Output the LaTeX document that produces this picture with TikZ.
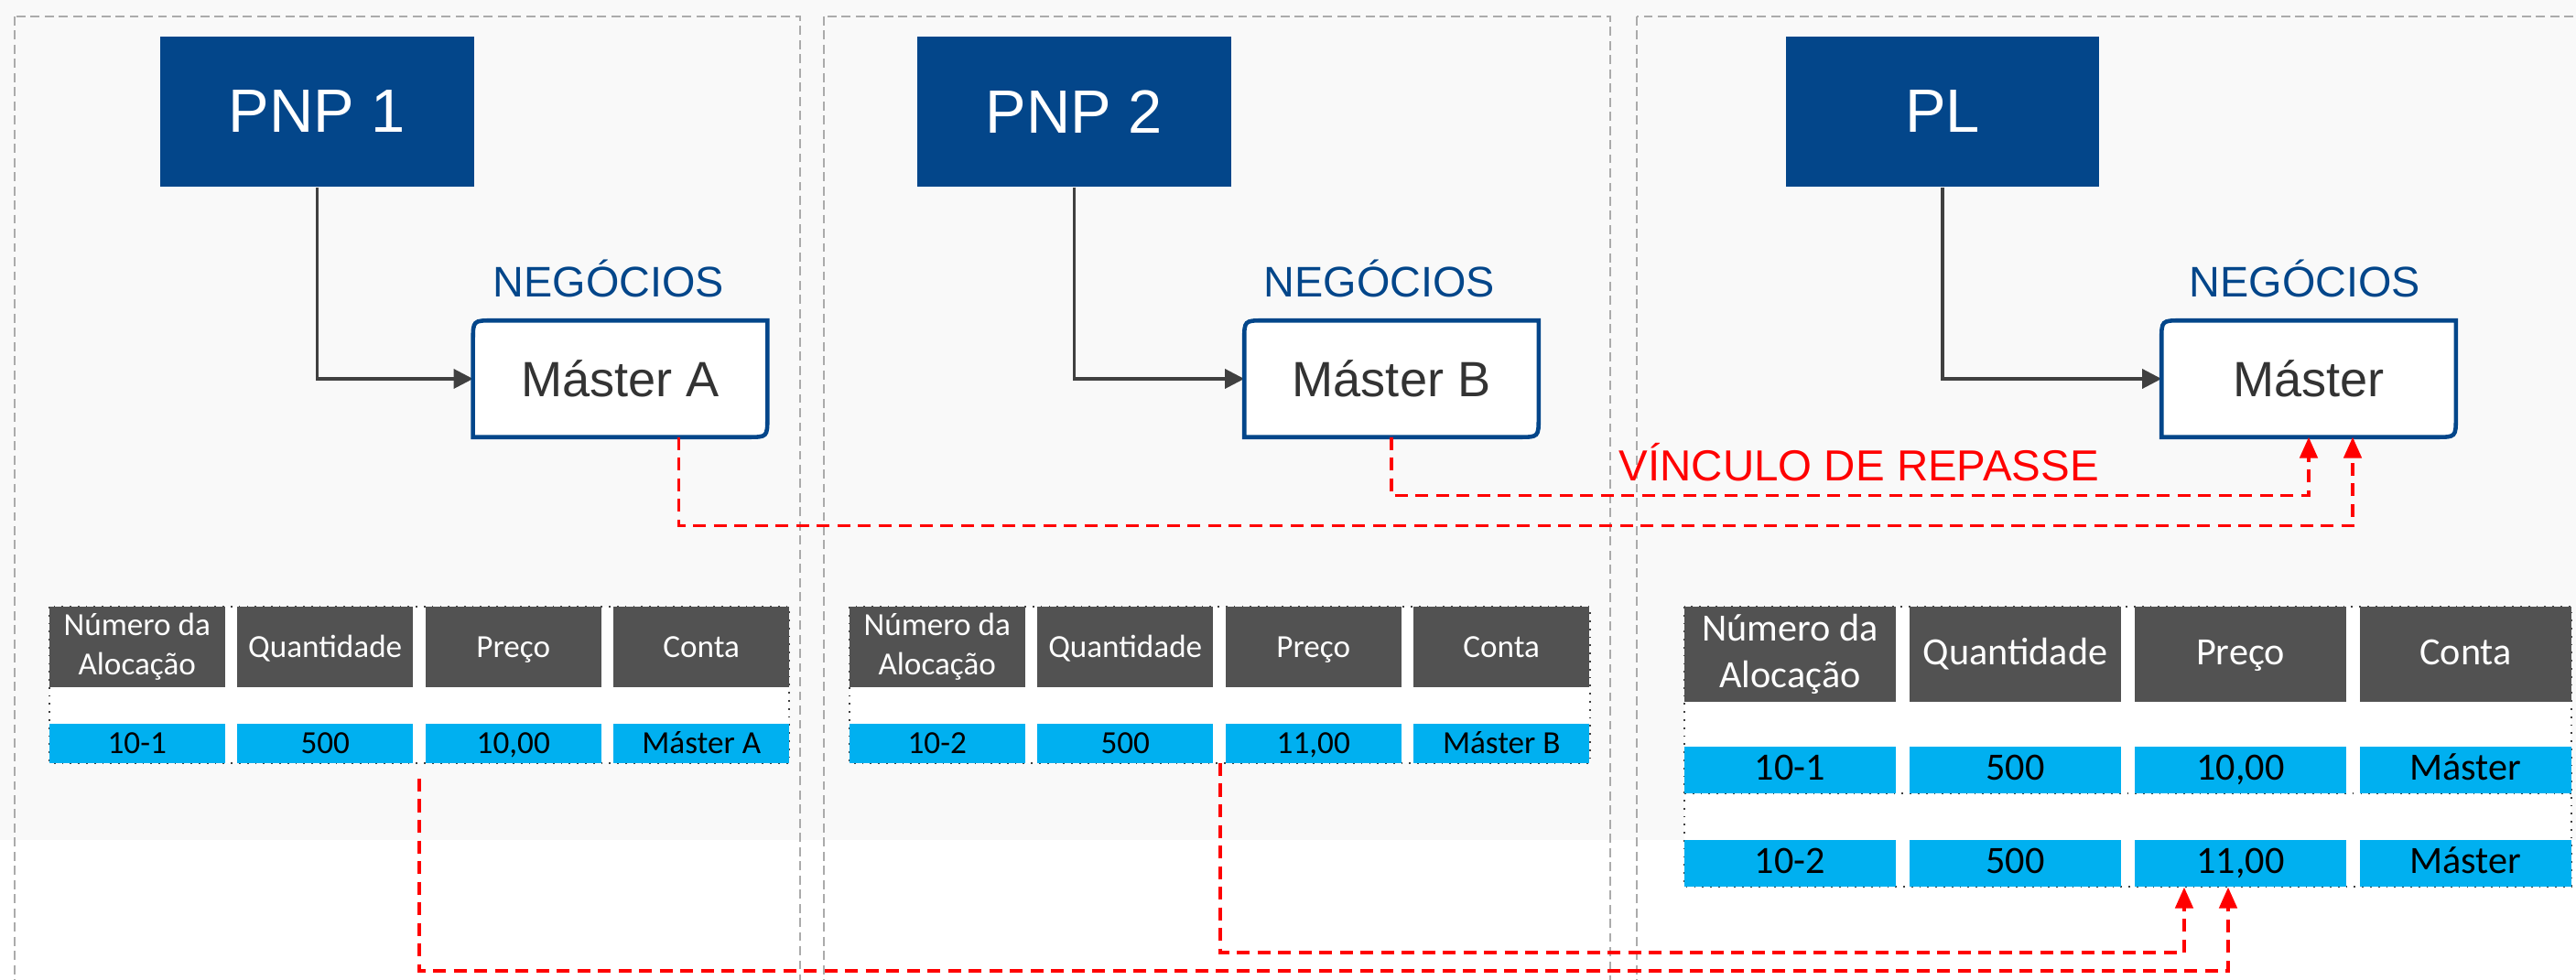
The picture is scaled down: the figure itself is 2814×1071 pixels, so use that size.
\documentclass[tikz,border=0pt]{standalone}
\usepackage{fontspec}
\setmainfont{Liberation Sans}
\newfontfamily\tabfont{Carlito}
\usepackage{tikz}
\usetikzlibrary{arrows.meta}
\definecolor{bx}{HTML}{03468A}
\definecolor{hd}{HTML}{525252}
\definecolor{cy}{HTML}{00B0F0}
\definecolor{rd}{HTML}{FF0000}
\definecolor{ar}{HTML}{404040}
\definecolor{pn}{HTML}{ABABAB}
\definecolor{bg}{HTML}{F9F9F9}
\definecolor{tx}{HTML}{333333}

\begin{document}
\begin{tikzpicture}[x=0.01cm,y=-0.01cm]
  \tikzstyle{every node}=[inner sep=0pt]
  \tikzstyle{unit}=[fill=bx,text=white,minimum width=3.42cm,minimum height=1.64cm,font=\fontsize{19}{23}\selectfont]
  \tikzstyle{master}=[fill=white,text=tx,minimum width=3.2cm,minimum height=1.26cm,font=\fontsize{15.4}{18}\selectfont]
  \tikzstyle{frame}=[draw=bx,line width=1.3pt]
  \tikzstyle{neg}=[text=bx,anchor=base,font=\fontsize{13.3}{16}\selectfont]
  \tikzstyle{conn}=[draw=ar,line width=0.9pt,-{Triangle[length=6pt,width=6pt]}]
  \tikzstyle{rlink}=[draw=rd,line width=1pt,dash pattern=on 4pt off 2.4pt,-{Triangle[length=6.5pt,width=5.5pt]}]
  \tikzstyle{panel}=[draw=pn,line width=0.6pt,dash pattern=on 2.8pt off 1.6pt]
  \tikzstyle{tbl}=[fill=white,draw=black!75,line width=0.5pt,dotted]
  \tikzstyle{line1}=[text height=0.7em,text depth=0.06em]
  \tikzstyle{hs}=[fill=hd,text=white,align=center,minimum width=1.915cm,minimum height=0.88cm,font=\tabfont\fontsize{10}{12.3}\selectfont]
  \tikzstyle{ds}=[fill=cy,text=black,line1,minimum width=1.915cm,minimum height=0.43cm,font=\tabfont\fontsize{10}{12}\selectfont]
  \tikzstyle{hl}=[hs,minimum width=2.31cm,minimum height=1.04cm,font=\tabfont\fontsize{12}{14.5}\selectfont]
  \tikzstyle{dl}=[ds,minimum width=2.31cm,minimum height=0.51cm,font=\tabfont\fontsize{12}{14}\selectfont]
  \clip (0,0) rectangle (2814,1071);
  \fill[bg] (0,0) rectangle (2814,918);
  % panels
  \draw[panel] (16,18) rectangle (874,1100);
  \draw[panel] (900,18) rectangle (1759,1100);
  \draw[panel] (1788,18) rectangle (2850,1100);

  % PNP 1
  \node[unit] (pnp1) at (346.5,122) {PNP 1};
  \node[neg] (neg1) at (665,325) {NEGÓCIOS};
  \node[master] (mA) at (677.5,414) {Máster A};
  \draw[conn] (pnp1) |- (mA);
  % PNP 2
  \node[unit] (pnp2) at (1173.5,122) {PNP 2};
  \node[neg] (neg2) at (1507,325) {NEGÓCIOS};
  \node[master] (mB) at (1520,414) {Máster B};
  \draw[conn] (pnp2) |- (mB);
  % PL
  \node[unit] (pl) at (2122,122) {PL};
  \node[neg] (neg3) at (2518,325) {NEGÓCIOS};
  \node[master] (mPL) at (2522,414) {Máster};
  \draw[conn] (pl) |- (mPL);
  \foreach \m in {mA,mB,mPL}
    \draw[frame] (\m.south west) -- ([yshift=-.22cm]\m.north west) .. controls (\m.north west) .. ([xshift=.22cm]\m.north west)
      -- (\m.north east) -- ([yshift=.22cm]\m.south east) .. controls (\m.south east) .. ([xshift=-.22cm]\m.south east) -- cycle;

  % tabela PNP 1
  \draw[tbl] (54,663) rectangle (862,834);
  \node[hs] (a1) at (149.75,707) {Número da\\Alocação};
  \node[hs,line1] (a2) at (355.25,707) {Quantidade};
  \node[hs,line1] (a3) at (560.75,707) {Preço};
  \node[hs,line1] (a4) at (766.25,707) {Conta};
  \node[ds] (d1) at (149.75,812.5) {10-1};
  \node[ds] (d2) at (355.25,812.5) {500};
  \node[ds] (d3) at (560.75,812.5) {10,00};
  \node[ds] (d4) at (766.25,812.5) {Máster A};
  % tabela PNP 2
  \draw[tbl] (928,663) rectangle (1737,834);
  \node[hs] (b1) at (1023.75,707) {Número da\\Alocação};
  \node[hs,line1] (b2) at (1229.25,707) {Quantidade};
  \node[hs,line1] (b3) at (1434.75,707) {Preço};
  \node[hs,line1] (b4) at (1640.25,707) {Conta};
  \node[ds] (e1) at (1023.75,812.5) {10-2};
  \node[ds] (e2) at (1229.25,812.5) {500};
  \node[ds] (e3) at (1434.75,812.5) {11,00};
  \node[ds] (e4) at (1640.25,812.5) {Máster B};
  % tabela PL
  \draw[tbl] (1840,663) rectangle (2809,969);
  \draw[tbl] (1840,867) -- (2809,867);
  \node[hl] (c1) at (1955.5,715) {Número da\\Alocação};
  \node[hl,line1] (c2) at (2201.5,715) {Quantidade};
  \node[hl,line1] (c3) at (2447.5,715) {Preço};
  \node[hl,line1] (c4) at (2693.5,715) {Conta};
  \node[dl] (f1) at (1955.5,841.5) {10-1};
  \node[dl] (f2) at (2201.5,841.5) {500};
  \node[dl] (f3) at (2447.5,841.5) {10,00};
  \node[dl] (f4) at (2693.5,841.5) {Máster};
  \node[dl] (g1) at (1955.5,943.5) {10-2};
  \node[dl] (g2) at (2201.5,943.5) {500};
  \node[dl] (g3) at (2447.5,943.5) {11,00};
  \node[dl] (g4) at (2693.5,943.5) {Máster};

  % repasse
  \node[text=rd,anchor=base west,font=\fontsize{13.5}{16}\selectfont] (vinc) at (1768,526) {VÍNCULO DE REPASSE};
  \draw[rlink] ([xshift=.64cm]mA.south) -- ++(0,97) -| ([xshift=.48cm]mPL.south);
  \draw[rlink] (mB.south) -- ++(0,64) -| (mPL.south);
  \coordinate (s1) at (458,851);
  \coordinate (s2) at (1333,834);
  \draw[rlink] (s1) -- ++(0,210) -| ([xshift=-.135cm]g3.south);
  \draw[rlink] (s2) -- ++(0,207) -| ([xshift=-.615cm]g3.south);
\end{tikzpicture}
\end{document}
